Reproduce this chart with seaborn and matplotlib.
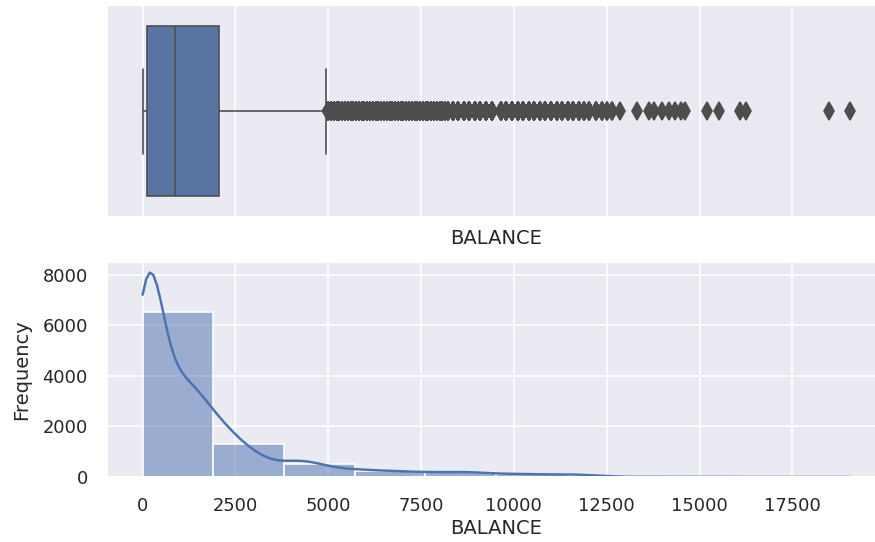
import numpy as np
import pandas as pd
import matplotlib
matplotlib.use("Agg")
import matplotlib.pyplot as plt
import seaborn as sns

# BALANCE values and how many customers sit at each level
core_balance = [0, 20, 50, 80, 105, 128, 200, 300, 400, 500, 600, 700, 800, 873,
                950, 1100, 1250, 1400, 1550, 1700, 1850, 1975, 2054,
                2250, 2500, 2750, 3000, 3250, 3500, 3750,
                4000, 4250, 4500, 4750, 4940]
core_counts = [80, 500, 600, 550, 480, 150, 560, 480, 330, 230, 180, 160, 140, 150,
               330, 320, 305, 290, 270, 250, 169, 180, 110,
               260, 220, 170, 130, 100, 80, 62,
               100, 90, 82, 75, 20]

# solid band of outliers just above the upper whisker
near_band_balance = [5000, 5075, 5150, 5225, 5300, 5375, 5450, 5525, 5600, 5675,
                     5750, 5825, 5900, 5975, 6050, 6125, 6200, 6275, 6350, 6425,
                     6500, 6575, 6650, 6725, 6800, 6875, 6950, 7025, 7100, 7175,
                     7250, 7325, 7400, 7475, 7550, 7625, 7700, 7775, 7850, 7925,
                     8000, 8075, 8150, 8225]
near_band_counts = [15, 15, 14, 14, 13, 13, 13, 13, 13, 12,
                    12, 12, 12, 11, 11, 11, 11, 10, 10, 10,
                    10, 10, 10, 10, 9, 9, 9, 9, 9, 8,
                    8, 8, 8, 8, 8, 8, 8, 8, 8, 7,
                    7, 7, 7, 7]

# looser band further out
far_band_balance = [8350, 8500, 8650, 8800, 8950, 9100, 9250, 9400,
                    9650, 9800, 9950, 10100, 10250, 10400, 10550, 10700,
                    10850, 11000, 11150, 11300, 11450, 11600, 11750]
far_band_counts = [18, 17, 16, 16, 15, 15, 14, 12,
                   12, 11, 11, 10, 10, 9, 9, 8,
                   8, 8, 7, 7, 10, 10, 8]

# sparse far outliers
sparse_balance = [11880, 12020, 12200, 12380, 12510, 12650, 12870, 13320,
                  13630, 13770, 13990, 14170, 14350, 14490, 14620, 15200,
                  15520, 16100, 16240, 18480, 19043]
sparse_counts = [6, 5, 5, 4, 3, 3, 1, 1,
                 1, 1, 1, 1, 1, 1, 1, 1,
                 1, 1, 1, 1, 1]

levels = core_balance + near_band_balance + far_band_balance + sparse_balance
counts = core_counts + near_band_counts + far_band_counts + sparse_counts
df = pd.DataFrame({"BALANCE": np.repeat(np.array(levels, dtype=float), counts)})

sns.set_theme()
fig = plt.figure(figsize=(875 / 117, 542 / 117), dpi=117)
ax1 = fig.add_axes([0.1226, 0.5991, 0.8888, 0.3917])
ax2 = fig.add_axes([0.1226, 0.1199, 0.8888, 0.3961], sharex=ax1)

line_gray = "#4d4d4d"
sns.boxplot(data=df, x="BALANCE", ax=ax1, linecolor=line_gray, fliersize=7.5,
            flierprops=dict(marker="d", markerfacecolor=line_gray,
                            markeredgecolor=line_gray))
ax1.tick_params(labelbottom=False)
ax1.set_xlabel("BALANCE", labelpad=7.5)

sns.histplot(data=df, x="BALANCE", bins=10, kde=True, ax=ax2)
ax2.tick_params(axis="both", pad=6)
ax2.set_ylabel("Frequency", labelpad=7)
ax2.set_xlabel("BALANCE", labelpad=2.5)

fig.savefig("out.png", dpi=117)
